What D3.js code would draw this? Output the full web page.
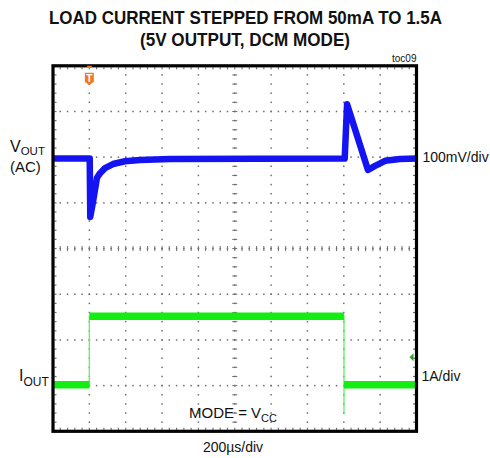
<!DOCTYPE html>
<html>
<head>
<meta charset="utf-8">
<script src="https://cdn.jsdelivr.net/npm/d3@7"></script>
<style>
  body { margin: 0; background: #fff; }
  text { font-family: "Liberation Sans", Arial, sans-serif; fill: #111; }
</style>
</head>
<body>
<div id="wrapper"></div>
<script>
// time axis in microseconds (200us/div, trigger at t = 0)
const timeDomain = [-200, 1800];
// channel 1 (VOUT, AC coupled) in mV, 100mV/div
const voutDomain = [-600, 200];
const voutTime = [-200, 2, 5, 20, 42, 59, 86, 130, 196, 279, 444, 1405, 1418, 1533, 1572, 1627, 1709, 1800];
const voutMv = [-3, -3, -131, -98, -45, -35, -24, -15, -9, -6, -4, -3, 116, -28, -19, -8, -4, -3];
// channel 2 (IOUT) in A, 1A/div
const ioutDomain = [-1, 7];
const ioutTime = [-200, 0, 0, 1401, 1401, 1401, 1800];
const ioutAmp = [0.02, 0.02, 1.52, 1.52, -0.6, 0.02, 0.02];
const triggerTime = 0;
const triggerLevel = 0.62;

const titleLines = ["LOAD CURRENT STEPPED FROM 50mA TO 1.5A", "(5V OUTPUT, DCM MODE)"];

const width = 490, height = 458;
const frame = { left: 53, right: 416.5, top: 65.8, bottom: 431.3 };

const svg = d3.select("#wrapper").append("svg")
  .attr("width", width).attr("height", height);

const x = d3.scaleLinear().domain(timeDomain).range([frame.left, frame.right]);
const yV = d3.scaleLinear().domain(voutDomain).range([frame.bottom, frame.top]);
const yI = d3.scaleLinear().domain(ioutDomain).range([frame.bottom, frame.top]);

// graticule
const grid = svg.append("g").attr("fill", "#6f6f6f");
const xMajor = d3.range(timeDomain[0], timeDomain[1] + 1, 200);
const xMinor = d3.range(timeDomain[0], timeDomain[1] + 1, 40);
const yMajor = d3.range(voutDomain[0], voutDomain[1] + 1, 100);
const yMinor = d3.range(voutDomain[0], voutDomain[1] + 1, 20);
const xMid = 800, yMid = -200;

// dotted vertical lines
xMajor.slice(1, -1).forEach(t => {
  yMinor.forEach(v => {
    grid.append("rect").attr("x", x(t) - 0.75).attr("y", yV(v) - 0.75)
      .attr("width", 1.5).attr("height", 1.5);
  });
});
// dotted horizontal lines
yMajor.slice(1, -1).forEach(v => {
  xMinor.forEach(t => {
    grid.append("rect").attr("x", x(t) - 0.75).attr("y", yV(v) - 0.75)
      .attr("width", 1.5).attr("height", 1.5);
  });
});
// ticks on the center cross
xMinor.forEach(t => {
  grid.append("rect").attr("x", x(t) - 0.5).attr("y", yV(yMid) - 2.5)
    .attr("width", 1).attr("height", 5);
});
yMinor.forEach(v => {
  grid.append("rect").attr("x", x(xMid) - 2.5).attr("y", yV(v) - 0.5)
    .attr("width", 5).attr("height", 1);
});
// little ticks inside the border
xMinor.forEach(t => {
  grid.append("rect").attr("x", x(t) - 0.6).attr("y", frame.top + 1.5).attr("width", 1.2).attr("height", 2);
  grid.append("rect").attr("x", x(t) - 0.6).attr("y", frame.bottom - 3.5).attr("width", 1.2).attr("height", 2);
});
yMinor.forEach(v => {
  grid.append("rect").attr("x", frame.left + 1.5).attr("y", yV(v) - 0.6).attr("width", 2).attr("height", 1.2);
  grid.append("rect").attr("x", frame.right - 3.5).attr("y", yV(v) - 0.6).attr("width", 2).attr("height", 1.2);
});

// channel 2 trace: thin edges, thick flat parts
const iout = ioutTime.map((t, i) => ({ t: t, a: ioutAmp[i] }));
const iLine = d3.line().x(d => x(d.t)).y(d => yI(d.a));
svg.append("path").datum(iout).attr("d", iLine)
  .attr("fill", "none").attr("stroke", "#5cf25c").attr("stroke-width", 1.3);
for (let i = 0; i < iout.length - 1; i++) {
  if (iout[i].a === iout[i + 1].a && iout[i].t !== iout[i + 1].t) {
    svg.append("path").datum([iout[i], iout[i + 1]]).attr("d", iLine)
      .attr("fill", "none").attr("stroke", "#12ee12").attr("stroke-width", 7.5);
  }
}

// channel 1 trace
const vout = voutTime.map((t, i) => ({ t: t, v: voutMv[i] }));
svg.append("path").datum(vout)
  .attr("d", d3.line().x(d => x(d.t)).y(d => yV(d.v)))
  .attr("fill", "none").attr("stroke", "#1414f2")
  .attr("stroke-width", 6.5).attr("stroke-linejoin", "round");

// frame
svg.append("rect")
  .attr("x", frame.left).attr("y", frame.top)
  .attr("width", frame.right - frame.left).attr("height", frame.bottom - frame.top)
  .attr("fill", "none").attr("stroke", "#000").attr("stroke-width", 3.2);

// trigger position marker
const tx = x(triggerTime);
svg.append("path")
  .attr("d", `M${tx - 3},${frame.top} L${tx + 3},${frame.top} L${tx},${frame.top + 3}Z`)
  .attr("fill", "#f07a22");
svg.append("path")
  .attr("d", `M${tx - 4.5},${frame.top + 7} h9 v9 l-4.5,3.5 l-4.5,-3.5Z`)
  .attr("fill", "#f07a22");
svg.append("text").attr("x", tx).attr("y", frame.top + 16)
  .attr("text-anchor", "middle").style("font-size", "10px").style("font-weight", "bold")
  .style("fill", "#fff").text("T");

// trigger level marker
const ty = yI(triggerLevel);
svg.append("path")
  .attr("d", `M${frame.right - 7},${ty} L${frame.right - 3},${ty - 4} L${frame.right - 3},${ty + 4}Z`)
  .attr("fill", "#2e9e2e");

// titles
svg.append("text").attr("x", 245.5).attr("y", 24.3).attr("text-anchor", "middle")
  .attr("textLength", 393).attr("lengthAdjust", "spacingAndGlyphs")
  .style("font-size", "19px").style("font-weight", "bold").text(titleLines[0]);
svg.append("text").attr("x", 245).attr("y", 45.7).attr("text-anchor", "middle")
  .attr("textLength", 210).attr("lengthAdjust", "spacingAndGlyphs")
  .style("font-size", "19px").style("font-weight", "bold").text(titleLines[1]);
svg.append("text").attr("x", frame.right).attr("y", 61.5).attr("text-anchor", "end")
  .style("font-size", "10px").text("toc09");

// channel labels
const vLab = svg.append("text").attr("x", 10).attr("y", 152).style("font-size", "16px");
vLab.append("tspan").text("V");
vLab.append("tspan").attr("dy", 3).style("font-size", "11.5px").text("OUT");
svg.append("text").attr("x", 10).attr("y", 171.5).style("font-size", "15px").text("(AC)");

const iLab = svg.append("text").attr("x", 19).attr("y", 381).style("font-size", "16px");
iLab.append("tspan").text("I");
iLab.append("tspan").attr("dy", 4.5).style("font-size", "12px").text("OUT");

svg.append("text").attr("x", 422.5).attr("y", 161.5).style("font-size", "14px").text("100mV/div");
svg.append("text").attr("x", 421.5).attr("y", 380.5).style("font-size", "14px").text("1A/div");

const mLab = svg.append("text").attr("x", 189).attr("y", 418.3).style("font-size", "15px");
mLab.append("tspan").text("MODE = V");
mLab.append("tspan").attr("dy", 4).style("font-size", "11px").text("CC");

svg.append("text").attr("x", 233).attr("y", 451.7).attr("text-anchor", "middle")
  .style("font-size", "14px").text("200µs/div");
</script>
</body>
</html>
